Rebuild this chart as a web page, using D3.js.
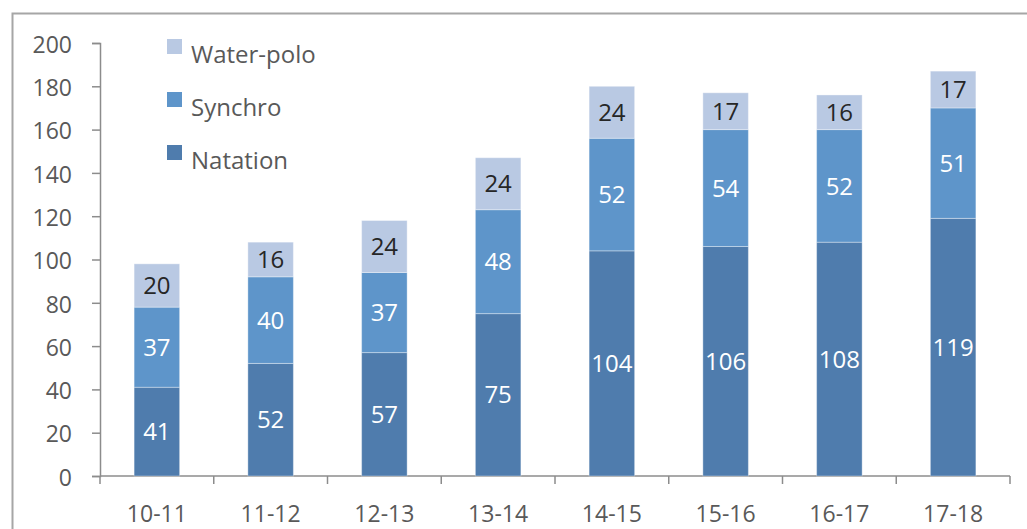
<!DOCTYPE html>
<html>
<head>
<meta charset="utf-8">
<script src="https://cdn.jsdelivr.net/npm/d3@7"></script>
<style>
  body { margin: 0; background: #fff; }
  svg { display: block; }
  text { font-family: "Open Sans", "DejaVu Sans", sans-serif; }
</style>
</head>
<body>
<div id="chart"></div>
<script>
// data
var seasons = ["10-11", "11-12", "12-13", "13-14", "14-15", "15-16", "16-17", "17-18"];
var natation = [41, 52, 57, 75, 104, 106, 108, 119];
var synchro = [37, 40, 37, 48, 52, 54, 52, 51];
var waterpolo = [20, 16, 24, 24, 24, 17, 16, 17];
var seriesNames = ["Natation", "Synchro", "Water-polo"];
var yTicks = [0, 20, 40, 60, 80, 100, 120, 140, 160, 180, 200];

var colors = { "Natation": "#4f7cad", "Synchro": "#5e95ca", "Water-polo": "#b9c9e3" };
var labelColors = { "Natation": "#ffffff", "Synchro": "#ffffff", "Water-polo": "#262626" };

var width = 1027, height = 529;
var margin = { top: 43, left: 100, right: 17, bottom: 53 };

var rows = seasons.map(function(s, i) {
    return { season: s, "Natation": natation[i], "Synchro": synchro[i], "Water-polo": waterpolo[i] };
});

var stack = d3.stack().keys(seriesNames);
var layers = stack(rows);

var x = d3.scaleBand()
    .domain(seasons)
    .range([margin.left, width - margin.right])
    .paddingInner(0.6)
    .paddingOuter(0.3);

var y = d3.scaleLinear()
    .domain([0, 200])
    .range([height - margin.bottom, margin.top]);

var svg = d3.select("#chart").append("svg")
    .attr("width", width)
    .attr("height", height);

// outer frame
svg.append("rect")
    .attr("x", 12.5).attr("y", 13.5)
    .attr("width", width + 20).attr("height", height + 20)
    .attr("fill", "none")
    .attr("stroke", "#a6a6a6")
    .attr("stroke-width", 2);

// y axis
var yAxis = d3.axisLeft(y).tickValues(yTicks).tickSize(8).tickPadding(20);
var gY = svg.append("g")
    .attr("transform", "translate(" + margin.left + ",0)")
    .call(yAxis);
gY.select(".domain").attr("stroke", "#8c8c8c").attr("stroke-width", 1.5);
gY.selectAll(".tick line").attr("stroke", "#8c8c8c").attr("stroke-width", 1.5);
gY.selectAll(".tick text").attr("fill", "#595959").style("font-size", "23px").attr("dy", "0.4em");

// x axis
var x0 = margin.left, x1 = width - margin.right;
var gX = svg.append("g")
    .attr("transform", "translate(0," + y(0) + ")");
gX.append("line")
    .attr("x1", x0).attr("x2", x1)
    .attr("stroke", "#8c8c8c").attr("stroke-width", 1.5);
gX.selectAll(".tk")
    .data(d3.range(seasons.length + 1))
    .enter().append("line")
    .attr("x1", function(i) { return x0 + i * (x1 - x0) / seasons.length; })
    .attr("x2", function(i) { return x0 + i * (x1 - x0) / seasons.length; })
    .attr("y1", 0).attr("y2", 8)
    .attr("stroke", "#8c8c8c").attr("stroke-width", 1.5);
gX.selectAll(".lbl")
    .data(seasons)
    .enter().append("text")
    .attr("x", function(d) { return x(d) + x.bandwidth() / 2; })
    .attr("y", 46)
    .attr("text-anchor", "middle")
    .attr("fill", "#595959")
    .style("font-size", "23px")
    .text(function(d) { return d; });

// bars
var groups = svg.selectAll(".layer")
    .data(layers)
    .enter().append("g")
    .attr("fill", function(d) { return colors[d.key]; });

groups.selectAll("rect")
    .data(function(d) { return d; })
    .enter().append("rect")
    .attr("x", function(d) { return x(d.data.season); })
    .attr("y", function(d) { return y(d[1]); })
    .attr("width", x.bandwidth())
    .attr("height", function(d) { return y(d[0]) - y(d[1]); })
    .attr("stroke", "#ffffff")
    .attr("stroke-opacity", 0.35)
    .attr("stroke-width", 1);

groups.selectAll("text")
    .data(function(d) { return d.map(function(p) { p.key = d.key; return p; }); })
    .enter().append("text")
    .attr("x", function(d) { return x(d.data.season) + x.bandwidth() / 2; })
    .attr("y", function(d) { return (y(d[0]) + y(d[1])) / 2; })
    .attr("dy", "0.36em")
    .attr("text-anchor", "middle")
    .attr("fill", function(d) { return labelColors[d.key]; })
    .style("font-size", "24px")
    .text(function(d) { return d[1] - d[0]; });

// legend
var legendOrder = ["Water-polo", "Synchro", "Natation"];
var legend = svg.selectAll(".legend")
    .data(legendOrder)
    .enter().append("g")
    .attr("transform", function(d, i) { return "translate(167," + (39 + i * 53) + ")"; });
legend.append("rect")
    .attr("width", 15).attr("height", 15)
    .attr("fill", function(d) { return colors[d]; });
legend.append("text")
    .attr("x", 24).attr("y", 24)
    .attr("fill", "#595959")
    .style("font-size", "24px")
    .text(function(d) { return d; });
</script>
</body>
</html>
